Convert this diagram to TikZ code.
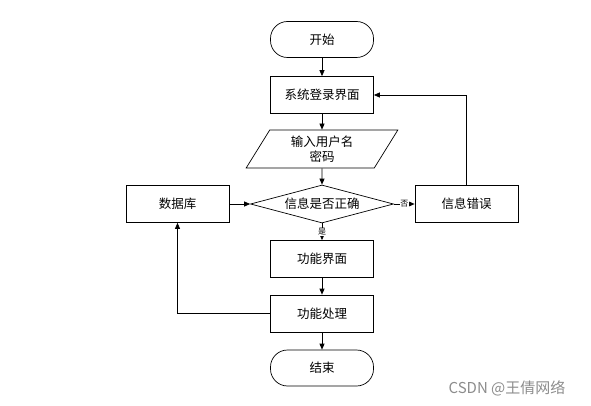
\documentclass[tikz,border=0pt]{standalone}
\usepackage{fontspec}
\newfontfamily\cjk{Noto Sans CJK SC}
\usetikzlibrary{shapes.geometric, arrows.meta, positioning}

\begin{document}
\begin{tikzpicture}[x=1pt, y=-1pt,
  font=\cjk\fontsize{12.5}{15}\selectfont,
  line width=0.7pt,
  terminal/.style={draw, rounded corners=17pt, minimum width=103pt, minimum height=36pt},
  procbox/.style={draw, minimum width=103pt, minimum height=37pt},
  iobox/.style={draw, trapezium, trapezium left angle=62, trapezium right angle=118,
    trapezium stretches=true, minimum width=152pt, minimum height=38pt, align=center, inner sep=0pt},
  decision/.style={draw, diamond, aspect=3.76, minimum width=143pt, minimum height=38pt, inner sep=0pt},
  flow/.style={-{Triangle[length=6pt,width=5pt]}},
  branch/.style={font=\cjk\fontsize{8}{8}\selectfont, fill=white, inner sep=0.5pt}
]
  \useasboundingbox (0,0) rectangle (591,406);

  % 主流程
  \node[terminal] (start) at (322,39.5) {开始};
  \node[procbox]  (login) at (322,95) {系统登录界面};
  \node[iobox]    (input) at (322,149) {输入用户名\\密码};
  \node[decision] (check) at (322,204) {信息是否正确};
  \node[procbox]  (func)  at (322,259) {功能界面};
  \node[procbox]  (proc)  at (322,313.5) {功能处理};
  \node[terminal] (stop)  at (322,368) {结束};

  % 两侧
  \node[procbox] (db)  at (177.5,204) {数据库};
  \node[procbox] (err) at (466.5,204) {信息错误};

  % 连线
  \draw[flow] (start) -- (login);
  \draw[flow] (login) -- (input);
  \draw[flow] (input) -- (check);
  \draw[flow] (check) -- node[branch] {是} (func);
  \draw[flow] (func) -- (proc);
  \draw[flow] (proc) -- (stop);
  \draw[flow] (check) -- node[branch] {否} (err);
  \draw[flow] (err.north) |- (login.east);
  \draw[flow] (db) -- (check);
  \draw[flow] (proc.west) -| (db.south);

  % 水印
  \node[text=black!45, font=\cjk\fontsize{15}{17}\selectfont] (mark) at (507,388) {CSDN @王倩网络};
\end{tikzpicture}
\end{document}
